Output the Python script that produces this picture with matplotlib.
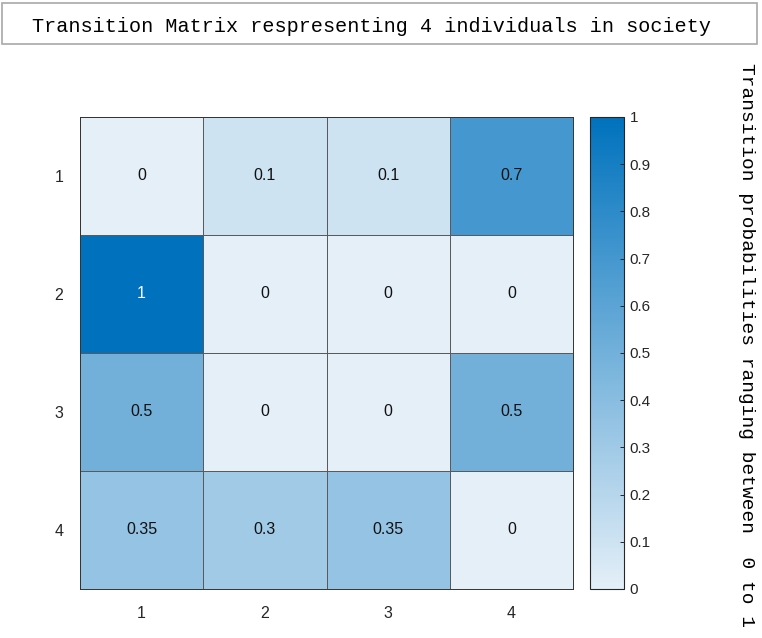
import numpy as np
from matplotlib import pyplot as plt
from matplotlib.colors import LinearSegmentedColormap
from matplotlib.patches import Rectangle

# transition probabilities, rows = from, cols = to
rows = ['1', '2', '3', '4']
cols = ['1', '2', '3', '4']
row1 = [0, 0.1, 0.1, 0.7]
row2 = [1, 0, 0, 0]
row3 = [0.5, 0, 0, 0.5]
row4 = [0.35, 0.3, 0.35, 0]
P = np.array([row1, row2, row3, row4])

title = 'Transition Matrix respresenting 4 individuals in society'
cblabel = 'Transition probabilities ranging between  0 to 1'

W, H = 762, 638
fig = plt.figure(figsize=(W/100, H/100), dpi=100)
cmap = LinearSegmentedColormap.from_list('mblue', ['#E4EFF8', '#0072BD'])

ax = fig.add_axes([80/W, 49/H, 493/W, 472/H])
im = ax.pcolormesh(P, cmap=cmap, vmin=0, vmax=1, edgecolors='#5a5a5a', linewidth=0.6)
ax.set_xlim(0, 4)
ax.set_ylim(4, 0)
ax.set_xticks(np.arange(4) + 0.5)
ax.set_xticklabels(cols)
ax.set_yticks(np.arange(4) + 0.5)
ax.set_yticklabels(rows)
ax.tick_params(length=0, pad=12, labelsize=11.5, colors='#262626')
for lab in ax.get_xticklabels() + ax.get_yticklabels():
    lab.set_family('Liberation Sans')
for s in ax.spines.values():
    s.set_color('#333333')
    s.set_linewidth(0.7)
for i in range(4):
    for j in range(4):
        v = P[i, j]
        ax.text(j + 0.5, i + 0.5, '%g' % v, ha='center', va='center',
                fontsize=11.5, family='Liberation Sans',
                color='white' if v > 0.8 else '#111111')

cax = fig.add_axes([590/W, 49/H, 34/W, 472/H])
cb = fig.colorbar(im, cax=cax, ticks=np.arange(0, 1.01, 0.1))
cb.ax.set_yticklabels(['%g' % t for t in np.arange(0, 1.01, 0.1).round(1)])
cb.ax.tick_params(direction='in', length=3, width=0.7, labelsize=11,
                  colors='#262626', pad=4)
for lab in cb.ax.get_yticklabels():
    lab.set_family('Liberation Sans')
cb.outline.set_edgecolor('#262626')
cb.outline.set_linewidth(0.8)

# title in a box
fig.patches.append(Rectangle((2/W, (H-44)/H), 755/W, 41/H, transform=fig.transFigure,
                             fill=False, edgecolor='#a8a8a8', linewidth=1.2))
fig.text(371/W, (H-27)/H, title, ha='center', va='center',
         fontsize=14.5, family='Liberation Mono')
fig.text(747/W, (H-63)/H, cblabel, rotation=-90, ha='center', va='top',
         fontsize=14, family='Liberation Mono')

plt.savefig('out.png', dpi=100)
